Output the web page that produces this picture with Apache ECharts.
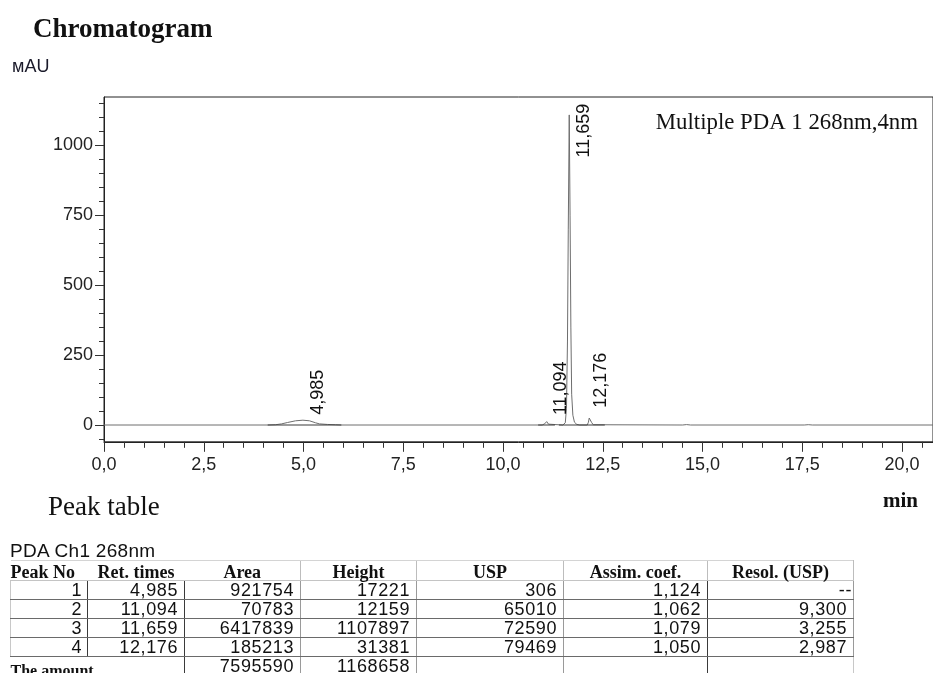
<!DOCTYPE html>
<html>
<head>
<meta charset="utf-8">
<script src="https://cdn.jsdelivr.net/npm/echarts@6/dist/echarts.min.js"></script>
<style>
  html, body { margin:0; padding:0; background:#fff; }
  #wrap { position:relative; width:933px; height:673px; overflow:hidden; }
  #chart { position:absolute; left:0; top:0; width:933px; height:673px; }
  #caption { position:absolute; left:10px; top:541px; font:19px 'Liberation Sans', Arial, sans-serif; color:#111; line-height:20px; white-space:nowrap; letter-spacing:0.3px; }
  #pt { position:absolute; left:10px; top:560px; border-collapse:collapse; table-layout:fixed; width:843px; }
  #pt td { padding:0; overflow:visible; white-space:nowrap; box-sizing:border-box; }
  #pt tr.hd td { height:19px; font:bold 18px 'Liberation Serif', 'Times New Roman', serif; color:#111; text-align:center; line-height:19px; border-top:1px solid #d4d4d4; border-bottom:1px solid #c4c4c4; vertical-align:middle; }
  #pt tr.hd td span { position:relative; top:2px; }
  #pt tr.dt td { height:19px; font:18px 'Liberation Sans', Arial, sans-serif; color:#111; text-align:right; line-height:18px; border-bottom:1px solid #6a6a6a; padding-right:6px; letter-spacing:0.6px; }
  #pt tr.am td { height:19px; font:18px 'Liberation Sans', Arial, sans-serif; color:#111; text-align:right; line-height:18px; padding-right:6px; letter-spacing:0.6px; vertical-align:top; }
</style>
</head>
<body>
<div id="wrap">
  <div id="chart"></div>
  <div id="caption">PDA Ch1 268nm</div>
  <table id="pt"></table>
</div>
<script>
// ---------- data ----------
const peakNo      = [1, 2, 3, 4];
const retTimes    = [4.985, 11.094, 11.659, 12.176];
const peakAreas   = [921754, 70783, 6417839, 185213];
const peakHeights = [17221, 12159, 1107897, 31381];
const uspPlates   = [306, 65010, 72590, 79469];
const asymCoef    = [1.124, 1.062, 1.079, 1.050];
const resolUsp    = [null, 9.300, 3.255, 2.987];
const totalArea   = 7595590;
const totalHeight = 1168658;
const tableHeaders = ['Peak No', 'Ret. times', 'Area', 'Height', 'USP', 'Assim. coef.', 'Resol. (USP)'];

// chromatogram trace (min, mAU)
const traceTime   = [0, 4.10, 4.30, 4.45, 4.60, 4.80, 4.985, 5.15, 5.30, 5.40, 5.60, 5.80, 5.95,
                     10.98, 11.04, 11.075, 11.094, 11.115, 11.14, 11.18,
                     11.50, 11.56, 11.59, 11.615, 11.635, 11.659, 11.68, 11.70, 11.72, 11.75, 11.79, 11.85, 11.92,
                     12.11, 12.14, 12.16, 12.176, 12.195, 12.22, 12.26, 12.30,
                     14.50, 14.60, 14.70, 17.55, 17.65, 17.75, 20.8];
const traceSignal = [0, 0, 1, 4, 9, 15, 17.2, 15, 8, 4, 2, 1, 0,
                     0, 4, 10, 12.2, 9, 3, 0,
                     0, 8, 60, 300, 700, 1108, 750, 350, 110, 35, 10, 2, 0,
                     0, 10, 25, 31.4, 24, 9, 1, 0,
                     0, 1.5, 0, 0, 1.2, 0, 0];
// integration baselines (start, end in min)
const baselineStart = [4.10, 10.88, 11.40];
const baselineEnd   = [5.95, 11.30, 12.55];

// axis ticks / labels
const yLabelValues = [0, 250, 500, 750, 1000];
const yMinorValues = [-50, 0, 50, 100, 150, 200, 250, 300, 350, 400, 450, 500, 550, 600, 650, 700,
                      750, 800, 850, 900, 950, 1000, 1050, 1100, 1150];

// ---------- chart ----------
const SANS = "'Liberation Sans', Arial, sans-serif";
const SERIF = "'Liberation Serif', 'Times New Roman', serif";
const fmtComma = (v, d) => v.toFixed(d).replace('.', ',');

const chart = echarts.init(document.getElementById('chart'), null, { renderer: 'canvas' });

const traceData = traceTime.map((t, i) => [t, traceSignal[i]]);
const labelOffsets = [[16, -5], [15, -6], [15, 43], [12, -8]];

const baselineSeries = baselineStart.map((s, i) => ({
  type: 'line', data: [[s, 0], [baselineEnd[i], 0]], symbol: 'none', silent: true,
  lineStyle: { color: '#3a3a3a', width: 1.2 }, z: 3
}));

chart.setOption({
  animation: false,
  backgroundColor: '#fff',
  grid: { left: 104, top: 97, right: -2, bottom: 231.2, show: true, borderColor: '#222', borderWidth: 1, backgroundColor: 'transparent' },
  xAxis: {
    type: 'value', min: 0, max: 20.775, interval: 2.5,
    axisLine: { onZero: false, lineStyle: { color: '#222', width: 1 } },
    axisTick: { show: true, length: 10, lineStyle: { color: '#333' } },
    minorTick: { show: true, splitNumber: 5, length: 6, lineStyle: { color: '#333' } },
    splitLine: { show: false },
    axisLabel: { showMaxLabel: false, margin: 14, fontFamily: SANS, fontSize: 18, color: '#222', formatter: v => fmtComma(v, 1) }
  },
  yAxis: [{
    type: 'value', min: -60, max: 1172,
    axisLine: { show: true, onZero: false, lineStyle: { color: '#222', width: 1 } },
    axisTick: { show: true, length: 9, customValues: yLabelValues, lineStyle: { color: '#333' } },
    axisLabel: { customValues: yLabelValues, margin: 11, fontFamily: SANS, fontSize: 18, color: '#222', formatter: v => String(v) },
    splitLine: { show: false }
  }, {
    type: 'value', min: -60, max: 1172, position: 'left',
    axisLine: { show: false },
    axisTick: { show: true, length: 5, customValues: yMinorValues, lineStyle: { color: '#333' } },
    axisLabel: { show: false },
    splitLine: { show: false }
  }],
  graphic: [
    { type: 'text', left: 33, top: 17, style: { text: 'Chromatogram', font: 'bold 27px ' + SERIF, fill: '#111' } },
    { type: 'text', left: 12, top: 58, style: { text: 'мAU', font: '18px ' + SANS, fill: '#1a1a2a' } },
    { type: 'text', right: 15, top: 112, style: { text: 'Multiple PDA 1 268nm,4nm', font: '22.8px ' + SERIF, fill: '#111' } },
    { type: 'text', left: 48, top: 494, style: { text: 'Peak table', font: '27px ' + SERIF, fill: '#111' } },
    { type: 'text', left: 883, top: 491, style: { text: 'min', font: 'bold 21px ' + SERIF, fill: '#111' } }
  ],
  series: [
    {
      type: 'line', data: traceData, symbol: 'none', silent: true, z: 2,
      lineStyle: { color: '#6e6e6e', width: 1 }
    },
    ...baselineSeries,
    {
      type: 'scatter', symbolSize: 1, silent: true, z: 5,
      itemStyle: { color: 'rgba(0,0,0,0)' },
      data: retTimes.map((rt, i) => ({
        value: [rt, peakHeights[i] / 1000],
        label: {
          show: true, position: labelOffsets[i], rotate: 90, align: 'left', verticalAlign: 'middle',
          formatter: fmtComma(rt, 3), fontFamily: SANS, fontSize: 18, color: '#111', opacity: 1
        }
      }))
    }
  ]
});

// ---------- peak table ----------
const tbl = document.getElementById('pt');
const colW = [77, 97, 116, 116, 147, 144, 146];
let html = '<colgroup>' + colW.map(w => `<col style="width:${w}px">`).join('') + '</colgroup>';
const vline = (c) => 'border-left:1px solid ' + c + ';';
html += '<tr class="hd">' + tableHeaders.map((h, i) => {
  let st = i === 0 ? 'text-align:left;' : '';
  if (i >= 3) st += vline('#bdbdbd');
  if (i === 6) st += 'border-right:1px solid #bdbdbd;';
  return `<td style="${st}"><span>${h}</span></td>`;
}).join('') + '</tr>';
peakNo.forEach((p, r) => {
  const cells = [
    String(p), fmtComma(retTimes[r], 3), String(peakAreas[r]), String(peakHeights[r]),
    String(uspPlates[r]), fmtComma(asymCoef[r], 3), resolUsp[r] == null ? '--' : fmtComma(resolUsp[r], 3)
  ];
  html += '<tr class="dt">' + cells.map((c, i) => {
    let st = '';
    if (i === 0) st += 'border-left:1px solid #c8c8c8;padding-right:5px;';
    if (i === 1 || i === 2) st += vline('#3a3a3a');
    if (i === 3 || i === 4 || i === 5) st += vline('#9a9a9a');
    if (i === 6) st += vline('#3a3a3a') + 'border-right:1px solid #9a9a9a;padding-right:1px;';
    if (i === 6 && resolUsp[r] != null) st += 'padding-right:6px;';
    return `<td style="${st}">${c}</td>`;
  }).join('') + '</tr>';
});
html += '<tr class="am"><td colspan="2" style="text-align:left;font:bold 16px \'Liberation Serif\', \'Times New Roman\', serif;letter-spacing:0;padding-top:5px;">The amount</td>' +
  `<td style="${vline('#3a3a3a')}">${totalArea}</td>` +
  `<td style="${vline('#9a9a9a')}">${totalHeight}</td>` +
  `<td style="${vline('#9a9a9a')}"></td>` +
  `<td style="${vline('#9a9a9a')}"></td>` +
  `<td style="${vline('#3a3a3a')}border-right:1px solid #c8c8c8;"></td></tr>`;
tbl.innerHTML = html;
</script>
</body>
</html>
